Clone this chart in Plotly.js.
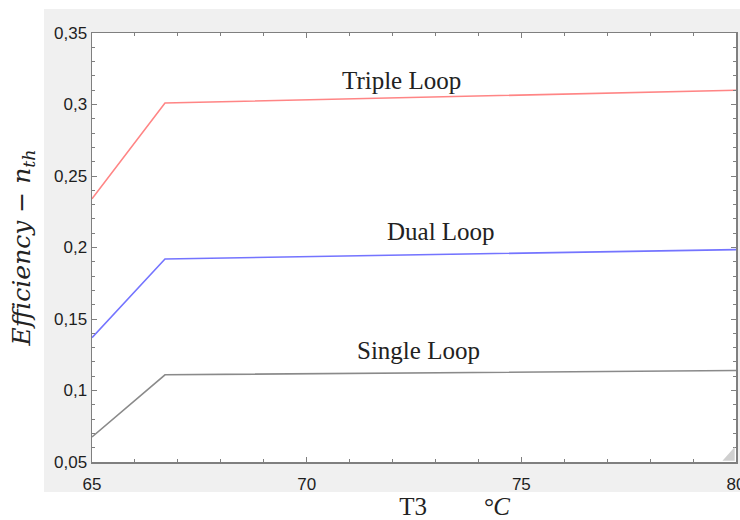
<!DOCTYPE html>
<html>
<head>
<meta charset="utf-8">
<script src="https://cdn.plot.ly/plotly-3.0.1.min.js"></script>
<style>html,body{margin:0;padding:0;background:#fff;}#chart{width:740px;height:520px;}</style>
</head>
<body>
<div id="chart"></div>
<script>
// Data
var temperature = [65, 66.7, 80];
var tripleLoop = [0.234, 0.301, 0.310];
var dualLoop = [0.137, 0.192, 0.1985];
var singleLoop = [0.0675, 0.111, 0.114];
var seriesNames = ['Triple Loop', 'Dual Loop', 'Single Loop'];

var traces = [
  {x: temperature, y: tripleLoop, name: seriesNames[0], mode: 'lines', line: {color: '#ff8585', width: 1.6}},
  {x: temperature, y: dualLoop, name: seriesNames[1], mode: 'lines', line: {color: '#7474ff', width: 1.6}},
  {x: temperature, y: singleLoop, name: seriesNames[2], mode: 'lines', line: {color: '#8a8a8a', width: 1.6}}
];

var axisCommon = {
  showgrid: false, zeroline: false,
  showline: true, linecolor: '#7f7f7f', linewidth: 1.5,
  mirror: 'ticks', ticks: 'inside', ticklen: 5, tickwidth: 1, tickcolor: '#7f7f7f',
  ticklabeloverflow: 'allow',
  tickfont: {family: 'Liberation Sans, Arial, sans-serif', size: 17, color: '#1e1e1e'}
};

var NB = '\u00a0';
function pad(n) { return new Array(n + 1).join(NB); }

var layout = {
  width: 740, height: 520,
  margin: {l: 92, r: 4, t: 33, b: 58},
  paper_bgcolor: '#ffffff',
  plot_bgcolor: 'rgba(0,0,0,0)',
  showlegend: false,
  separators: ', ',
  xaxis: Object.assign({}, axisCommon, {
    range: [65, 80], tick0: 65, dtick: 5,
    ticklabelstandoff: 6,
    minor: {dtick: 1, ticks: 'inside', ticklen: 3, tickcolor: '#7f7f7f', showgrid: false},
    title: {text: '\u200b' + pad(13) + 'T3' + pad(9) + '<i>°C</i>', font: {family: 'Liberation Serif, Times New Roman, serif', size: 25, color: '#222'}, standoff: 9}
  }),
  yaxis: Object.assign({}, axisCommon, {
    range: [0.05, 0.35], tick0: 0.05, dtick: 0.05,
    tickformat: '.2~f',
    minor: {dtick: 0.01, ticks: 'inside', ticklen: 3, tickcolor: '#7f7f7f', showgrid: false},
    title: {text: '<i>Efficiency − n<sub>th</sub></i>', font: {family: 'DejaVu Serif, serif', size: 25, color: '#222'}, standoff: 16}
  }),
  shapes: [
    {type: 'rect', xref: 'paper', yref: 'paper', x0: -0.0745, x1: 1.01, y0: -0.07, y1: 1.056,
     fillcolor: '#f0f0f0', line: {width: 0}, layer: 'below'},
    {type: 'rect', xref: 'paper', yref: 'paper', x0: 0, x1: 1, y0: 0, y1: 1,
     fillcolor: '#ffffff', line: {width: 0}, layer: 'below'},
    {type: 'path', xref: 'paper', yref: 'paper', path: 'M 0.979 0.003 L 0.998 0.003 L 0.998 0.035 Z',
     fillcolor: '#cfcfcf', line: {width: 0}, layer: 'above'}
  ],
  annotations: [
    {x: 72.2, y: 0.317, xref: 'x', yref: 'y', text: seriesNames[0], showarrow: false,
     font: {family: 'Liberation Serif, Times New Roman, serif', size: 25, color: '#222'}},
    {x: 73.13, y: 0.211, xref: 'x', yref: 'y', text: seriesNames[1], showarrow: false,
     font: {family: 'Liberation Serif, Times New Roman, serif', size: 25, color: '#222'}},
    {x: 72.6, y: 0.128, xref: 'x', yref: 'y', text: seriesNames[2], showarrow: false,
     font: {family: 'Liberation Serif, Times New Roman, serif', size: 25, color: '#222'}}
  ]
};

Plotly.newPlot('chart', traces, layout, {displayModeBar: false, staticPlot: true});
</script>
</body>
</html>
